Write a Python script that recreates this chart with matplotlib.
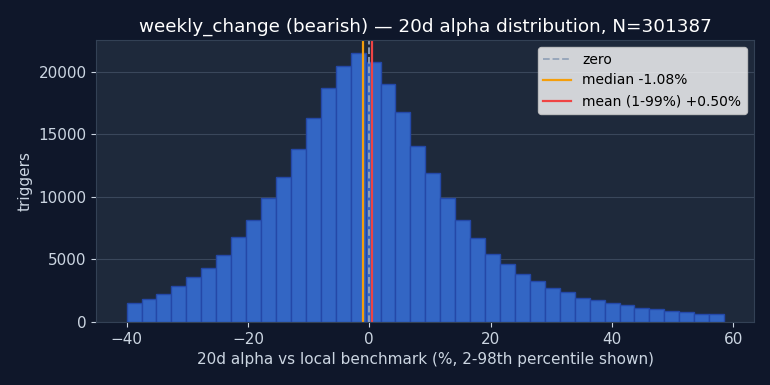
import numpy as np
import matplotlib
matplotlib.use("Agg")
import matplotlib.pyplot as plt

# histogram of 20d alpha, 40 bins between 2nd and 98th percentile
lo, hi = -40.0, 58.5
counts = [1520, 1790, 2270, 2900, 3630, 4350, 5360, 6800, 8160, 9950,
          11630, 13870, 16320, 18720, 20480, 21550, 20800, 19070, 16830, 14080,
          11950, 9950, 8160, 6750, 5470, 4670, 3870, 3310, 2750, 2430,
          1950, 1760, 1520, 1310, 1070, 990, 830, 750, 640, 590]
median = -1.08
mean = 0.50
n_total = 301387

edges = np.linspace(lo, hi, len(counts) + 1)

fig = plt.figure(figsize=(7.7, 3.85), dpi=100, facecolor="#0f172a")
ax = fig.add_axes([0.125, 0.164, 0.854, 0.732], facecolor="#1e293b")

ax.bar(edges[:-1], counts, width=np.diff(edges), align="edge",
       color="#3366c4", edgecolor="#2448a8", linewidth=1)

ax.axvline(0, color="#94a3b8", linestyle="--", linewidth=1.3, label="zero")
ax.axvline(median, color="#f59e0b", linewidth=1.6, label=f"median {median:.2f}%")
ax.axvline(mean, color="#ef4444", linewidth=1.6, label=f"mean (1-99%) {mean:+.2f}%")

ax.set_xlim(-45, 63.4)
ax.set_ylim(0, 22560)
ax.set_xticks([-40, -20, 0, 20, 40, 60])
ax.set_yticks([0, 5000, 10000, 15000, 20000])
ax.grid(axis="y", color="#475569", linewidth=0.8, alpha=0.7)
ax.set_axisbelow(True)

for s in ax.spines.values():
    s.set_color("#334155")
ax.tick_params(colors="#cbd5e1", labelsize=11)

ax.set_title(f"weekly_change (bearish) \u2014 20d alpha distribution, N={n_total}",
             color="white", fontsize=13.2)
ax.set_xlabel("20d alpha vs local benchmark (%, 2-98th percentile shown)", color="#cbd5e1", fontsize=11)
ax.set_ylabel("triggers", color="#cbd5e1", fontsize=11)

ax.legend(loc="upper right", fontsize=10)

fig.savefig("out.png", facecolor=fig.get_facecolor())
